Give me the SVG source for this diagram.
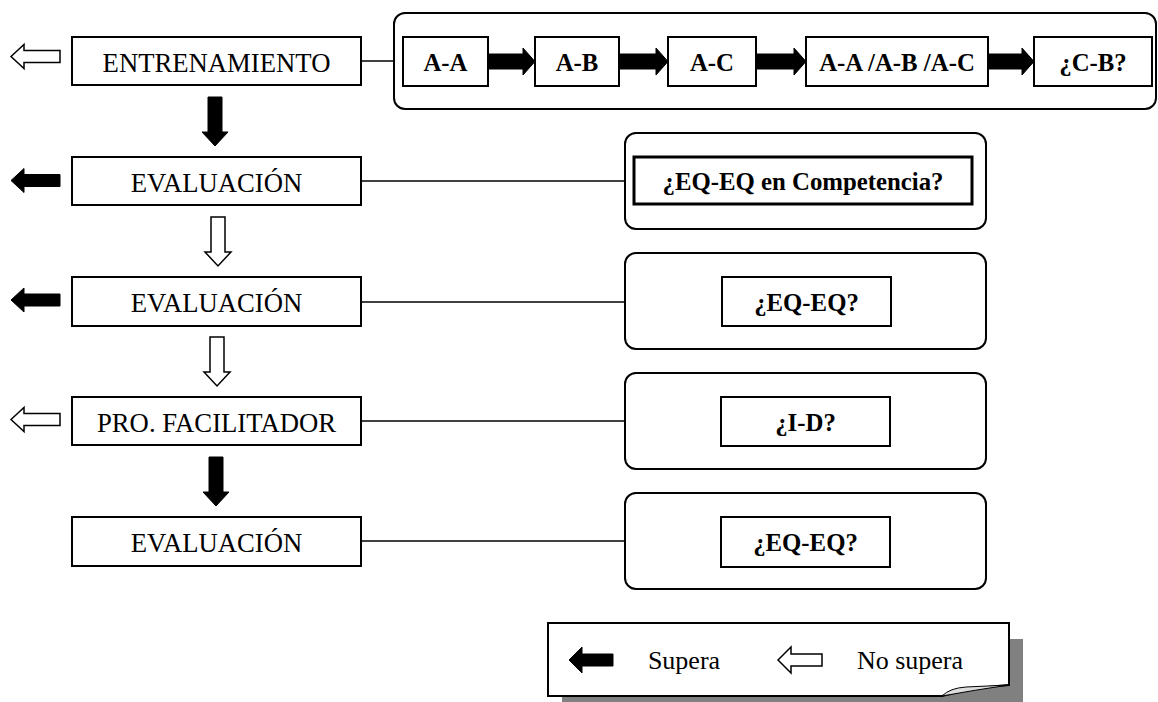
<svg xmlns="http://www.w3.org/2000/svg" xmlns:xlink="http://www.w3.org/1999/xlink" width="1158" height="702" viewBox="0 0 1158 702">
<style>
.box{fill:#fff;stroke:#000;stroke-width:2}
.grp{fill:#fff;stroke:#000;stroke-width:2}
.lbl{font-family:"Liberation Serif","Times New Roman",serif;font-size:26.7px;text-anchor:middle;fill:#000}
.leg{font-family:"Liberation Serif","Times New Roman",serif;font-size:26px;text-anchor:middle;fill:#000}
.bld{font-family:"Liberation Serif","Times New Roman",serif;font-size:24.8px;font-weight:bold;text-anchor:middle;fill:#000}
.line{stroke:#000;stroke-width:1.5;fill:none}
.hollow{fill:#fff;stroke:#000;stroke-width:1.5}
.solid{fill:#000;stroke:#000;stroke-width:1}
</style>
<defs>
<path id="la" d="M0,0 L13,-12 L13,-6 L49,-6 L49,6 L13,6 L13,12 Z"/>
<path id="da" d="M-7,-49 H7 V-14 H13 L0,0 L-13,-14 H-7 Z"/>
<path id="la2" d="M0,0 L13,-13 L13,-6 L44,-6 L44,6 L13,6 L13,13 Z"/>
</defs>
<rect width="1158" height="702" fill="#fff"/>
<g id="n-entrenamiento"><rect class="box" x="72" y="37" width="289" height="48"/><text class="lbl" x="216.5" y="72">ENTRENAMIENTO</text></g>
<g id="n-eval1"><rect class="box" x="72" y="157" width="289" height="48"/><text class="lbl" x="216.5" y="192">EVALUACIÓN</text></g>
<g id="n-eval2"><rect class="box" x="72" y="277" width="289" height="49"/><text class="lbl" x="216.5" y="312">EVALUACIÓN</text></g>
<g id="n-facilitador"><rect class="box" x="72" y="397" width="289" height="48"/><text class="lbl" x="216.5" y="432">PRO. FACILITADOR</text></g>
<g id="n-eval3"><rect class="box" x="72" y="517" width="289" height="49"/><text class="lbl" x="216.5" y="552">EVALUACIÓN</text></g>
<g id="g-training">
<rect class="grp" x="394" y="13" width="762" height="96" rx="11"/>
<rect class="box" x="403" y="37" width="85" height="49"/><text class="bld" x="445.5" y="71">A-A</text>
<rect class="box" x="535" y="37" width="84" height="49"/><text class="bld" x="577" y="71">A-B</text>
<rect class="box" x="668" y="37" width="88" height="49"/><text class="bld" x="712" y="71">A-C</text>
<rect class="box" x="806" y="37" width="182" height="49"/><text class="bld" x="897" y="71">A-A /A-B /A-C</text>
<rect class="box" x="1034" y="37" width="118" height="49"/><text class="bld" x="1093" y="71">¿C-B?</text>
</g>
<g id="g-eval1">
<rect class="grp" x="625" y="133" width="361" height="96" rx="11"/>
<rect class="box" x="634" y="157" width="338" height="47" style="stroke-width:3"/><text class="bld" x="803" y="190">¿EQ-EQ en Competencia?</text>
</g>
<g id="g-eval2">
<rect class="grp" x="625" y="253" width="361" height="96" rx="11"/>
<rect class="box" x="722" y="277" width="169" height="49"/><text class="bld" x="806.5" y="311">¿EQ-EQ?</text>
</g>
<g id="g-facilitador">
<rect class="grp" x="625" y="373" width="361" height="96" rx="11"/>
<rect class="box" x="721" y="397" width="169" height="49"/><text class="bld" x="805.5" y="431">¿I-D?</text>
</g>
<g id="g-eval3">
<rect class="grp" x="625" y="493" width="361" height="96" rx="11"/>
<rect class="box" x="721" y="517" width="169" height="50"/><text class="bld" x="805.5" y="551">¿EQ-EQ?</text>
</g>
<g id="connectors">
<line class="line" x1="361" y1="61" x2="394" y2="61"/>
<line class="line" x1="361" y1="181" x2="625" y2="181"/>
<line class="line" x1="361" y1="302" x2="625" y2="302"/>
<line class="line" x1="361" y1="421" x2="625" y2="421"/>
<line class="line" x1="361" y1="541" x2="625" y2="541"/>
<use href="#la" class="hollow" transform="translate(11,56.5)"/>
<use href="#la" class="solid" transform="translate(11,180.5)"/>
<use href="#la" class="solid" transform="translate(11,300)"/>
<use href="#la" class="hollow" transform="translate(11,419.5)"/>
<use href="#da" class="solid" transform="translate(215,146)"/>
<use href="#da" class="hollow" transform="translate(218,266)"/>
<use href="#da" class="hollow" transform="translate(217,386)"/>
<use href="#da" class="solid" transform="translate(216,506)"/>
<path class="solid" d="M489,54 H523 V48 L535,61.5 L523,75 V69 H489 Z"/>
<path class="solid" d="M620,54 H656 V48 L668,61.5 L656,75 V69 H620 Z"/>
<path class="solid" d="M757,54 H794 V48 L806,61.5 L794,75 V69 H757 Z"/>
<path class="solid" d="M989,54 H1022 V48 L1034,61.5 L1022,75 V69 H989 Z"/>
</g>
<g id="legend">
<rect x="562" y="639" width="461" height="73" fill="#808080"/>
<path d="M548,623 H1009 V685 Q975,687 942,696 H548 Z" fill="#fff" stroke="#000" stroke-width="2"/>
<path d="M942,696 Q950,688 966,687 L1009,685 Q975,690 942,696 Z" fill="#ddd" stroke="#000" stroke-width="1"/>
<use href="#la2" class="solid" transform="translate(569,660)"/>
<text class="leg" x="684" y="669">Supera</text>
<use href="#la2" class="hollow" transform="translate(778,660)"/>
<text class="leg" x="910" y="669">No supera</text>
</g>
</svg>
